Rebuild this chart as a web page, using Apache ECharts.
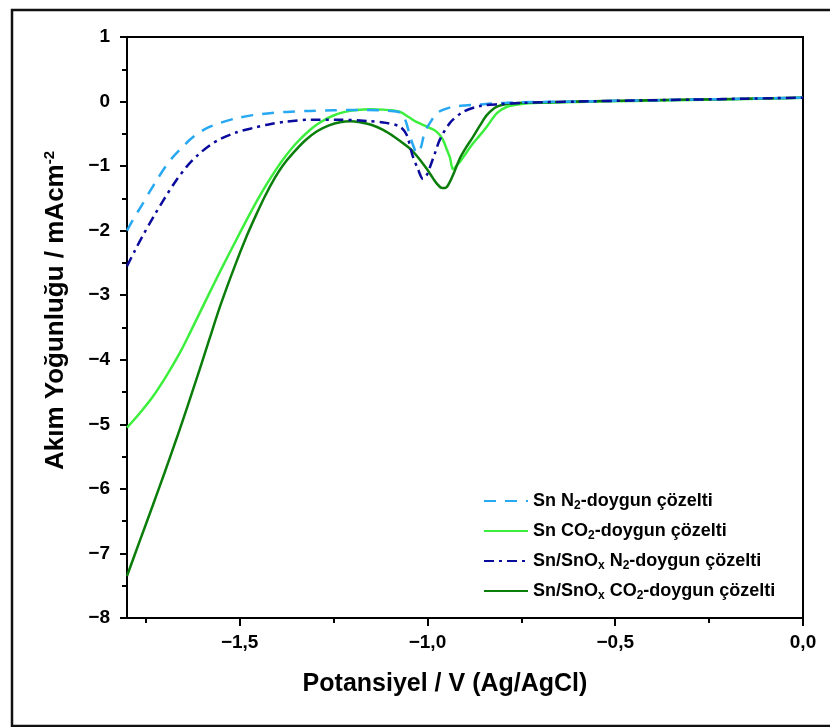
<!DOCTYPE html>
<html>
<head>
<meta charset="utf-8">
<script src="https://cdn.jsdelivr.net/npm/echarts@6/dist/echarts.min.js"></script>
<style>
html, body { margin: 0; padding: 0; background: #fff; }
#chart { width: 830px; height: 727px; }
</style>
</head>
<body>
<div id="chart"></div>
<script>
// Sn N2-doygun çözelti
var snN2_V = [-1.8, -1.785, -1.76, -1.74, -1.72, -1.70, -1.678, -1.65, -1.624, -1.59, -1.552, -1.51, -1.465, -1.42, -1.374, -1.313, -1.25, -1.19, -1.13, -1.09, -1.07, -1.058, -1.048, -1.038, -1.028, -1.018, -1.007, -0.99, -0.975, -0.955, -0.932, -0.9, -0.868, -0.83, -0.79, -0.75, -0.6, -0.45, -0.3, -0.15, 0];
var snN2_J = [-2.0, -1.84, -1.6, -1.4, -1.21, -1.03, -0.86, -0.69, -0.55, -0.42, -0.33, -0.26, -0.21, -0.18, -0.16, -0.145, -0.135, -0.13, -0.135, -0.15, -0.18, -0.3, -0.5, -0.68, -0.8, -0.72, -0.47, -0.3, -0.18, -0.12, -0.08, -0.06, -0.05, -0.03, -0.02, -0.01, 0.0, 0.015, 0.03, 0.045, 0.06];

// Sn CO2-doygun çözelti
var snCO2_V = [-1.8, -1.765, -1.731, -1.695, -1.659, -1.632, -1.606, -1.58, -1.552, -1.515, -1.481, -1.454, -1.428, -1.405, -1.385, -1.35, -1.313, -1.285, -1.252, -1.22, -1.188, -1.15, -1.118, -1.09, -1.073, -1.05, -1.028, -0.993, -0.975, -0.959, -0.948, -0.94, -0.932, -0.922, -0.913, -0.895, -0.879, -0.86, -0.842, -0.815, -0.788, -0.754, -0.7, -0.6, -0.45, -0.3, -0.15, 0];
var snCO2_J = [-5.05, -4.82, -4.57, -4.25, -3.89, -3.58, -3.27, -2.96, -2.63, -2.21, -1.83, -1.54, -1.28, -1.07, -0.9, -0.65, -0.44, -0.32, -0.22, -0.16, -0.13, -0.12, -0.125, -0.14, -0.16, -0.24, -0.32, -0.41, -0.47, -0.59, -0.75, -0.87, -1.05, -0.99, -0.93, -0.78, -0.65, -0.52, -0.39, -0.18, -0.08, -0.04, -0.02, -0.005, 0.01, 0.025, 0.04, 0.06];

// Sn/SnOx N2-doygun çözelti
var snoxN2_V = [-1.8, -1.78, -1.76, -1.73, -1.70, -1.67, -1.64, -1.61, -1.58, -1.552, -1.51, -1.465, -1.42, -1.374, -1.305, -1.24, -1.161, -1.11, -1.073, -1.055, -1.04, -1.025, -1.012, -1.0, -0.993, -0.98, -0.967, -0.94, -0.905, -0.86, -0.807, -0.75, -0.6, -0.45, -0.3, -0.15, 0];
var snoxN2_J = [-2.55, -2.32, -2.1, -1.79, -1.5, -1.23, -1.0, -0.82, -0.68, -0.58, -0.48, -0.41, -0.35, -0.31, -0.28, -0.28, -0.3, -0.33, -0.39, -0.52, -0.83, -1.05, -1.2, -1.12, -1.01, -0.8, -0.59, -0.33, -0.16, -0.07, -0.04, -0.02, 0.0, 0.015, 0.03, 0.045, 0.06];

// Sn/SnOx CO2-doygun çözelti
var snoxCO2_V = [-1.8, -1.765, -1.731, -1.70, -1.668, -1.64, -1.606, -1.58, -1.552, -1.515, -1.481, -1.455, -1.433, -1.406, -1.385, -1.358, -1.325, -1.294, -1.262, -1.233, -1.205, -1.18, -1.15, -1.118, -1.085, -1.055, -1.039, -1.02, -1.001, -0.985, -0.975, -0.961, -0.95, -0.94, -0.927, -0.913, -0.896, -0.879, -0.86, -0.842, -0.815, -0.78, -0.75, -0.6, -0.45, -0.3, -0.15, 0];
var snoxCO2_J = [-7.35, -6.79, -6.25, -5.75, -5.22, -4.74, -4.14, -3.67, -3.17, -2.58, -2.08, -1.74, -1.47, -1.18, -0.99, -0.8, -0.6, -0.46, -0.37, -0.32, -0.305, -0.32, -0.36, -0.44, -0.56, -0.69, -0.77, -0.9, -1.05, -1.19, -1.27, -1.34, -1.33, -1.24, -1.07, -0.87, -0.7, -0.55, -0.37, -0.21, -0.08, -0.03, -0.02, 0.0, 0.015, 0.03, 0.045, 0.06];

var seriesNames = ['Sn N2-doygun çözelti', 'Sn CO2-doygun çözelti', 'Sn/SnOx N2-doygun çözelti', 'Sn/SnOx CO2-doygun çözelti'];
var legendRich = {
	'Sn N2-doygun çözelti': 'Sn N{s|2}-doygun çözelti',
	'Sn CO2-doygun çözelti': 'Sn CO{s|2}-doygun çözelti',
	'Sn/SnOx N2-doygun çözelti': 'Sn/SnO{s|x} N{s|2}-doygun çözelti',
	'Sn/SnOx CO2-doygun çözelti': 'Sn/SnO{s|x} CO{s|2}-doygun çözelti'
};
var xMajor = [-1.5, -1.0, -0.5, 0];
var xMinor = [-1.75, -1.25, -0.75, -0.25];

function pairs(v, j) {
	var out = [];
	for (var i = 0; i < v.length; i++) out.push([v[i], j[i]]);
	return out;
}
function fmtX(v) {
	var s = Math.abs(v).toFixed(1).replace('.', ',');
	return v < 0 ? '\u2212' + s : s;
}
function fmtY(v) {
	return v < 0 ? '\u2212' + Math.abs(v) : '' + v;
}

var FONT = '"Liberation Sans", Arial, sans-serif';
var myChart = echarts.init(document.getElementById('chart'));

var option = {
	backgroundColor: '#fff',
	animation: false,
	graphic: [{
		type: 'rect',
		shape: { x: 12, y: 10, width: 900, height: 716 },
		style: { fill: 'none', stroke: '#111', lineWidth: 2.5 },
		z: -1
	}],
	grid: {
		left: 127, right: 27, top: 37, bottom: 109,
		show: true, borderColor: '#000', borderWidth: 2
	},
	legend: {
		orient: 'vertical',
		left: 478, top: 485,
		itemWidth: 44, itemHeight: 14, itemGap: 8,
		data: seriesNames,
		itemStyle: { opacity: 0 },
		formatter: function (name) { return legendRich[name]; },
		textStyle: {
			fontFamily: FONT, fontWeight: 'bold', fontSize: 18, color: '#000', lineHeight: 22,
			rich: {
				s: { fontFamily: FONT, fontWeight: 'bold', fontSize: 12, color: '#000', lineHeight: 22, padding: [9, 0, 0, 0] }
			}
		}
	},
	xAxis: [{
		type: 'value', min: -1.8, max: 0,
		name: 'Potansiyel / V (Ag/AgCl)', nameLocation: 'middle', nameGap: 54,
		nameTextStyle: { fontFamily: FONT, fontWeight: 'bold', fontSize: 25, color: '#000', padding: [0, 40, 0, 0] },
		axisLine: { onZero: false, lineStyle: { color: '#000', width: 2 } },
		axisTick: { show: true, inside: false, length: 8, customValues: xMajor, lineStyle: { color: '#000', width: 2 } },
		axisLabel: { customValues: xMajor, formatter: fmtX, margin: 15, fontFamily: FONT, fontWeight: 'bold', fontSize: 19, color: '#000' },
		splitLine: { show: false }
	}, {
		type: 'value', min: -1.8, max: 0, position: 'bottom',
		axisLine: { show: false, onZero: false },
		axisTick: { show: true, inside: false, length: 5, customValues: xMinor, lineStyle: { color: '#000', width: 2 } },
		axisLabel: { show: false },
		splitLine: { show: false }
	}],
	yAxis: {
		type: 'value', min: -8, max: 1, interval: 1,
		name: 'Akım Yoğunluğu / mAcm{p|-2}', nameLocation: 'middle', nameGap: 58, nameRotate: 90,
		nameTextStyle: {
			fontFamily: FONT, fontWeight: 'bold', fontSize: 26, color: '#000', padding: [0, 0, 0, 34],
			rich: { p: { fontFamily: FONT, fontWeight: 'bold', fontSize: 15, color: '#000', padding: [0, 0, 12, 0] } }
		},
		axisLine: { onZero: false, lineStyle: { color: '#000', width: 2 } },
		axisTick: { show: true, inside: false, length: 7, lineStyle: { color: '#000', width: 2 } },
		minorTick: { show: true, splitNumber: 2, length: 5, lineStyle: { color: '#000', width: 2 } },
		axisLabel: { formatter: fmtY, margin: 17, fontFamily: FONT, fontWeight: 'bold', fontSize: 19, color: '#000' },
		splitLine: { show: false }
	},
	series: [{
		name: seriesNames[0], type: 'line', data: pairs(snN2_V, snN2_J),
		smooth: 0.3, symbol: 'none', z: 3,
		lineStyle: { color: '#27A8F2', width: 2.5, type: [12, 9] },
		itemStyle: { color: '#27A8F2' }
	}, {
		name: seriesNames[1], type: 'line', data: pairs(snCO2_V, snCO2_J),
		smooth: 0.3, symbol: 'none', z: 2,
		lineStyle: { color: '#3DEF3D', width: 2.5 },
		itemStyle: { color: '#3DEF3D' }
	}, {
		name: seriesNames[2], type: 'line', data: pairs(snoxN2_V, snoxN2_J),
		smooth: 0.3, symbol: 'none', z: 4,
		lineStyle: { color: '#0A0A9C', width: 2.5, type: [10, 5, 3, 5] },
		itemStyle: { color: '#0A0A9C' }
	}, {
		name: seriesNames[3], type: 'line', data: pairs(snoxCO2_V, snoxCO2_J),
		smooth: 0.3, symbol: 'none', z: 2,
		lineStyle: { color: '#0B7D0B', width: 2.5 },
		itemStyle: { color: '#0B7D0B' }
	}]
};
myChart.setOption(option, true);
</script>
</body>
</html>
